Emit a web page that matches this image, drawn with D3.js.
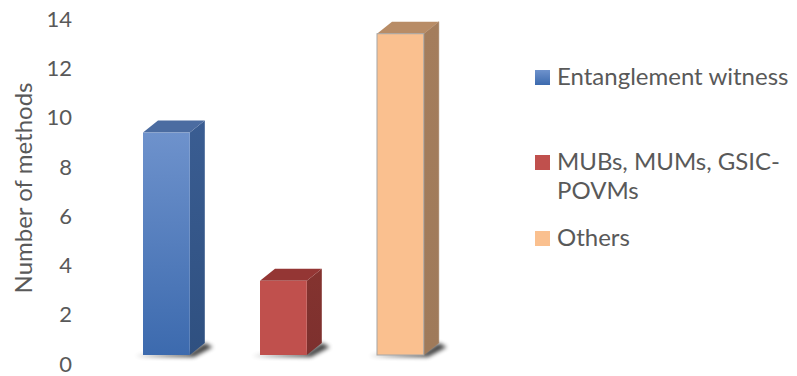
<!DOCTYPE html>
<html><head><meta charset="utf-8">
<script src="https://cdn.jsdelivr.net/npm/d3@7"></script>
<style>body{margin:0;background:#fff}svg{display:block}text{font-family:Lato,"Open Sans",sans-serif;fill:#595959}</style>
</head><body><svg id="c" width="797" height="376"></svg>
<script>
const categories = ["Entanglement witness", "MUBs, MUMs, GSIC-POVMs", "Others"];
const legendLines = [["Entanglement witness"], ["MUBs, MUMs, GSIC-", "POVMs"], ["Others"]];
const values = [9, 3, 13];
const yTicks = [0, 2, 4, 6, 8, 10, 12, 14];
const yTitle = "Number of methods";

const faceColors = [
  {front0:"#6e92cc", front1:"#3c6aae", side:"#2f5080", side1:"#3a5d92", top:"#4b6ca1", stroke:"none"},
  {front0:"#c0504d", front1:"#c0504d", side:"#7d302e", side1:"#84332f", top:"#943634", stroke:"none"},
  {front0:"#fac08f", front1:"#fac08f", side:"#9f7a5a", side1:"#a47d5c", top:"#b88c66", stroke:"#a6a6a6"}
];

const svg = d3.select("#c");
const defs = svg.append("defs");
defs.append("filter").attr("id","blur").attr("x","-50%").attr("y","-50%").attr("width","200%").attr("height","200%")
  .append("feGaussianBlur").attr("stdDeviation", 2);
faceColors.forEach((c,i)=>{
  const g = defs.append("linearGradient").attr("id","gf"+i).attr("x1",0).attr("y1",0).attr("x2",0).attr("y2",1);
  g.append("stop").attr("offset","0%").attr("stop-color",c.front0);
  g.append("stop").attr("offset","100%").attr("stop-color",c.front1);
  const s = defs.append("linearGradient").attr("id","gs"+i).attr("x1",0).attr("y1",0).attr("x2",0).attr("y2",1);
  s.append("stop").attr("offset","0%").attr("stop-color",c.side1);
  s.append("stop").attr("offset","100%").attr("stop-color",c.side);
});

// axis label scale
const yAxisScale = d3.scaleLinear().domain([0,14]).range([364,19]);
// bar scale (front face)
const yBar = d3.scaleLinear().domain([0,14]).range([355,9]);
const x = d3.scaleBand().domain(categories).range([84.5, 482.3]).paddingInner(0.6).paddingOuter(0.5);
const dx = 15, dy = -12;

// Y axis
const yAxis = d3.axisLeft(yAxisScale).tickValues(yTicks).tickSize(0).tickPadding(0);
const ga = svg.append("g").attr("transform","translate(72,0)").call(yAxis);
ga.select(".domain").remove();
ga.selectAll("text").style("font-size","22px").style("font-family","Lato").attr("fill","#595959").attr("dy","0.33em");

svg.append("text").attr("transform","translate(32,188) rotate(-90)").attr("text-anchor","middle")
  .style("font-size","24px").text(yTitle);

// bars
const bars = svg.append("g").selectAll("g").data(values).join("g");
bars.each(function(v,i){
  const g = d3.select(this);
  const x0 = x(categories[i]), x1 = x0 + x.bandwidth();
  const yt = yBar(v), yb = yBar(0);
  const c = faceColors[i];
  // shadow
  g.append("path").attr("d", d3.line()([[x0-8,yb+1],[x1+4,yb+2],[x1+dx+8,yb+dy+4],[x1+dx,yb+dy],[x1,yb-2]]))
    .attr("fill","#000").attr("opacity",0.75).attr("filter","url(#blur)");
  // side
  g.append("path").attr("d", d3.line()([[x1,yt],[x1+dx,yt+dy],[x1+dx,yb+dy],[x1,yb]])+"Z")
    .attr("fill","url(#gs"+i+")").attr("stroke",c.stroke==="none"?"none":c.side).attr("stroke-width",0.5);
  // top
  g.append("path").attr("d", d3.line()([[x0,yt],[x0+dx,yt+dy],[x1+dx,yt+dy],[x1,yt]])+"Z")
    .attr("fill",c.top);
  // front
  g.append("rect").attr("x",x0).attr("y",yt).attr("width",x1-x0).attr("height",yb-yt)
    .attr("fill","url(#gf"+i+")").attr("stroke",c.stroke).attr("stroke-width",1);
});

// legend
const legY = [77, 162, 238];
const lineH = 29;
const leg = svg.append("g");
legendLines.forEach((lines,i)=>{
  leg.append("rect").attr("x",535).attr("y",legY[i]-7).attr("width",15).attr("height",15)
    .attr("fill","url(#gf"+i+")");
  const t = leg.append("text").attr("x",557).attr("y",legY[i]).style("font-size","24px");
  lines.forEach((s,j)=>{
    t.append("tspan").attr("x",557).attr("y",legY[i] + j*lineH).attr("dy","0.35em").text(s);
  });
});
</script></body></html>
